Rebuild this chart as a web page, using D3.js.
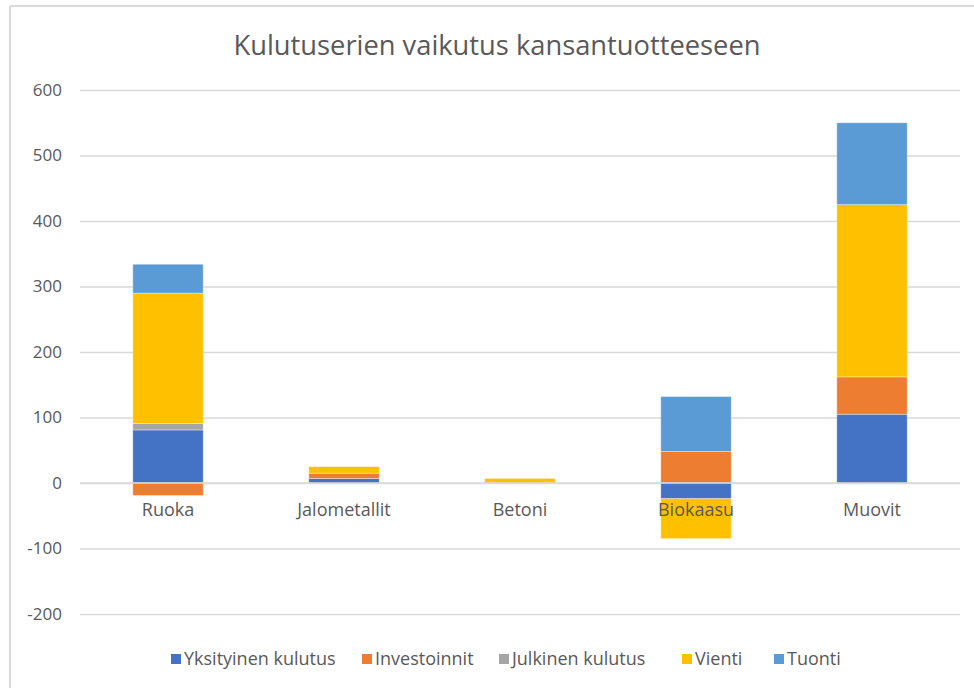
<!DOCTYPE html>
<html>
<head>
<meta charset="utf-8">
<script src="https://cdn.jsdelivr.net/npm/d3@7"></script>
<style>
html,body{margin:0;padding:0;background:#fff;}
svg{display:block;}
text{font-family:"Open Sans",sans-serif;fill:#595959;}
</style>
</head>
<body>
<svg id="chart" width="974" height="688"></svg>
<script>
const title = "Kulutuserien vaikutus kansantuotteeseen";
const categories = ["Ruoka", "Jalometallit", "Betoni", "Biokaasu", "Muovit"];
const seriesNames = ["Yksityinen kulutus", "Investoinnit", "Julkinen kulutus", "Vienti", "Tuonti"];
const seriesColors = ["#4472C4", "#ED7D31", "#A5A5A5", "#FFC000", "#5B9BD5"];
const yksityinen = [81, 7, 0, -24, 105];
const investoinnit = [-19, 8, 0, 48, 57];
const julkinen = [10, 0, 0, 0, 0];
const vienti = [199, 10, 7, -61, 263];
const tuonti = [44, 0, 0, 84, 125];
const yTicks = [-200, -100, 0, 100, 200, 300, 400, 500, 600];

const seriesValues = [yksityinen, investoinnit, julkinen, vienti, tuonti];
const table = categories.map((c, i) => {
  const row = {category: c};
  seriesNames.forEach((s, j) => row[s] = seriesValues[j][i]);
  return row;
});

const svg = d3.select("#chart");
const W = 974, H = 688;
const plot = {left: 80, right: 960, top: 90, bottom: 614};

// frame
svg.append("line").attr("x1", 10).attr("x2", 10).attr("y1", 6).attr("y2", H)
  .attr("stroke", "#D9D9D9").attr("stroke-width", 2);
svg.append("line").attr("x1", 10).attr("x2", W).attr("y1", 6).attr("y2", 6)
  .attr("stroke", "#D9D9D9").attr("stroke-width", 2);

// title
svg.append("text").attr("x", 497).attr("y", 55).attr("text-anchor", "middle")
  .style("font-size", "27.3px").text(title);

const x = d3.scaleBand().domain(categories).range([plot.left, plot.right])
  .paddingInner(0.6).paddingOuter(0.3);
const y = d3.scaleLinear().domain([-200, 600]).range([plot.bottom, plot.top]);

// grid
const yAxis = d3.axisLeft(y).tickValues(yTicks).tickFormat(d => String(d))
  .tickSize(-(plot.right - plot.left)).tickPadding(18);
const gy = svg.append("g").attr("transform", `translate(${plot.left},0)`).call(yAxis);
gy.select(".domain").remove();
gy.selectAll(".tick line").attr("stroke", "#D9D9D9").attr("stroke-width", 1.3);
gy.selectAll(".tick text").style("font-size", "17px").attr("fill", "#595959")
  .style("font-family", "'Open Sans',sans-serif");

// stacked bars
const stack = d3.stack().keys(seriesNames).offset(d3.stackOffsetDiverging);
const stacked = stack(table);
const color = d3.scaleOrdinal().domain(seriesNames).range(seriesColors);

svg.append("g").selectAll("g").data(stacked).join("g")
  .attr("fill", d => color(d.key))
  .selectAll("rect").data(d => d.filter(p => p[1] - p[0] !== 0)).join("rect")
  .attr("x", d => x(d.data.category))
  .attr("width", x.bandwidth())
  .attr("y", d => y(Math.max(d[0], d[1])))
  .attr("height", d => Math.abs(y(d[0]) - y(d[1])))
  .attr("stroke", "rgba(255,255,255,0.45)").attr("stroke-width", 0.8);

// category axis at zero
const xAxis = d3.axisBottom(x).tickSize(0).tickPadding(20);
const gx = svg.append("g").attr("transform", `translate(0,${y(0)})`).call(xAxis);
gx.select(".domain").remove();
gx.selectAll(".tick text").style("font-size", "18px").attr("fill", "#595959")
  .style("font-family", "'Open Sans',sans-serif");

// zero line on top
svg.append("line").attr("x1", plot.left).attr("x2", plot.right)
  .attr("y1", y(0)).attr("y2", y(0)).attr("stroke", "#D9D9D9").attr("stroke-width", 1.3);

// legend
const legendX = [171, 362, 499, 682, 774];
const lg = svg.append("g").selectAll("g").data(seriesNames).join("g")
  .attr("transform", (d, i) => `translate(${legendX[i]},659)`);
lg.append("rect").attr("x", 0).attr("y", -5).attr("width", 10).attr("height", 10)
  .attr("fill", d => color(d));
lg.append("text").attr("x", 13).attr("y", 6).style("font-size", "18px").text(d => d);
</script>
</body>
</html>
